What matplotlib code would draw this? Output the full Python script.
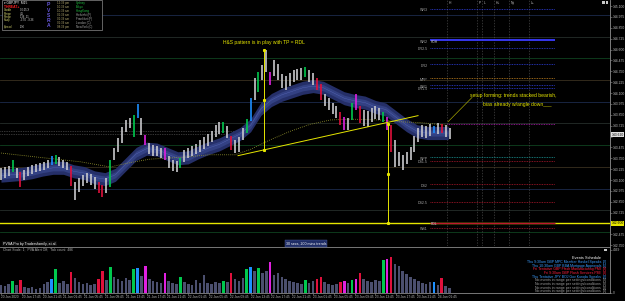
import numpy as np
import matplotlib.pyplot as plt
from matplotlib.patches import Rectangle

plt.rcParams['font.family'] = ['Liberation Sans', 'DejaVu Sans']

# GBPJPY M15 - price bars grouped by 3 (x = hours since 20 Jan 13:45)
bar_high = [143.24, 143.25, 143.26, 143.33, 143.24, 143.19, 143.22, 143.25, 143.27, 143.28,
            143.30, 143.31, 143.33, 143.38, 143.39, 143.36, 143.33, 143.31, 143.26, 143.08,
            143.12, 143.16, 143.18, 143.17, 143.13, 143.08, 143.04, 143.12, 143.33, 143.47,
            143.58, 143.71, 143.79, 143.81, 143.85, 143.97, 143.81, 143.62, 143.53, 143.50,
            143.49, 143.47, 143.47, 143.38, 143.33, 143.32, 143.35, 143.45, 143.47, 143.49,
            143.51, 143.56, 143.59, 143.63, 143.66, 143.73, 143.77, 143.77, 143.72, 143.61,
            143.56, 143.59, 143.70, 143.80, 144.04, 144.27, 144.34, 144.42, 144.60, 144.34,
            144.48, 144.43, 144.32, 144.30, 144.33, 144.37, 144.38, 144.39, 144.40, 144.37,
            144.33, 144.27, 144.20, 144.09, 144.04, 143.99, 143.95, 143.88, 143.82, 143.81,
            143.99, 144.09, 143.95, 143.91, 143.89, 143.93, 143.95, 143.93, 143.88, 143.82,
            143.73, 143.56, 143.42, 143.39, 143.42, 143.48, 143.61, 143.70, 143.73, 143.72,
            143.74, 143.72, 143.76, 143.74, 143.73, 143.70]
bar_low = [143.10, 143.12, 143.15, 143.19, 143.12, 143.02, 143.10, 143.15, 143.17, 143.19,
           143.20, 143.22, 143.24, 143.27, 143.28, 143.26, 143.24, 143.22, 143.03, 142.87,
           142.96, 143.03, 143.07, 143.04, 143.00, 142.95, 142.90, 142.95, 143.02, 143.33,
           143.42, 143.53, 143.65, 143.70, 143.59, 143.81, 143.62, 143.50, 143.40, 143.38,
           143.38, 143.35, 143.33, 143.24, 143.20, 143.19, 143.24, 143.31, 143.35, 143.38,
           143.40, 143.42, 143.46, 143.49, 143.54, 143.59, 143.63, 143.64, 143.58, 143.45,
           143.41, 143.42, 143.56, 143.64, 143.78, 144.02, 144.11, 144.25, 144.34, 144.19,
           144.30, 144.25, 144.16, 144.14, 144.18, 144.23, 144.25, 144.25, 144.28, 144.23,
           144.19, 144.14, 144.02, 143.95, 143.91, 143.86, 143.81, 143.73, 143.68, 143.68,
           143.79, 143.91, 143.76, 143.72, 143.71, 143.77, 143.80, 143.79, 143.77, 143.68,
           143.42, 143.25, 143.26, 143.22, 143.28, 143.33, 143.42, 143.54, 143.59, 143.58,
           143.61, 143.64, 143.63, 143.64, 143.59, 143.57]
# PVSRA colour per bar: w normal, g/r climax, b/m rising volume
bar_kind = ("wwwgwrwwww" "wwwbgwwwrw" "wwwwwrrwgw" "wwwwgbwmww" "wwmwwwgwww"
            "wwwwwwwgwr" "wwwgbwgwwm" "wwwwwwwwgw" "wrrwwwwrmw" "gmrwwwwwgm"
            "rwwwwwwwww" "wbwrww")
volume = [830, 730, 940, 1250, 830, 1350, 620, 520, 620, 420,
          520, 940, 1140, 1460, 2500, 1040, 1250, 940, 2180, 1560,
          1140, 940, 1040, 830, 940, 1460, 2290, 1350, 2700, 1660,
          1460, 1250, 1560, 1350, 2500, 2600, 1770, 2810, 1460, 1250,
          1140, 1040, 2080, 1250, 1040, 940, 1660, 1140, 940, 830,
          1350, 1040, 1870, 1040, 940, 1140, 1040, 1250, 1140, 2080,
          1460, 1250, 1560, 2500, 2700, 2290, 2600, 2080, 2290, 3220,
          1870, 2080, 1660, 1460, 1250, 1140, 1040, 940, 1350, 1040,
          1250, 1460, 1660, 1140, 940, 830, 940, 1140, 1250, 1040,
          1350, 1460, 2080, 1460, 1250, 1140, 1350, 1250, 3430, 3540,
          3740, 3020, 2810, 2290, 1980, 1660, 1460, 1250, 1040, 940,
          1140, 1140, 830, 1560, 730, 520]

# trend band centre, read every 2 hours
band_mid = [143.15, 143.16, 143.17, 143.19, 143.22, 143.24, 143.24, 143.20, 143.18, 143.13,
            143.11, 143.16, 143.28, 143.40, 143.46, 143.45, 143.40, 143.35, 143.36, 143.42,
            143.47, 143.51, 143.57, 143.63, 143.73, 143.92, 144.02, 144.08, 144.12, 144.16,
            144.18, 144.16, 144.10, 144.04, 144.01, 143.99, 143.94, 143.91, 143.82, 143.73,
            143.66, 143.64, 143.64, 143.64]
slow_ma_hours = [0, 7.5, 15.2, 21.0, 24.8, 28.7, 34.4, 40.2, 45.0, 47.9,
                 51.7, 55.6, 59.4, 63.3, 67.1, 72.9, 76.7, 80.6, 85.8]
slow_ma = [143.41, 143.36, 143.31, 143.25, 143.30, 143.34, 143.36, 143.39, 143.39, 143.45,
           143.56, 143.66, 143.74, 143.79, 143.80, 143.79, 143.77, 143.76, 143.73]

round_levels = [145.00, 144.75, 144.50, 144.25, 144.00, 143.75, 143.50, 143.25, 143.00, 142.75, 142.50]
pivot_levels = [145.07, 144.71, 144.62, 144.43, 144.27, 144.19, 144.16, 143.74,
                143.36, 143.32, 143.05, 142.85, 142.61, 142.55]
pivot_names = ["WR3", "WR2", "DR2.5", "DR2", "MPP", "WR1", "DR1.5", "",
               "WPP", "DS1.5", "DS2", "DS2.5", "", "WS1"]
session_hours = [85.8, 91.5, 92.5, 94.8, 97.7, 101.5]
session_names = ["H", "P", "L", "H+", "Ny", "L+"]

time_labels = ["20 Jan 2020", "20 Jan 17:45", "20 Jan 21:45",
               "21 Jan 01:45", "21 Jan 05:45", "21 Jan 09:45", "21 Jan 13:45", "21 Jan 17:45", "21 Jan 21:45",
               "22 Jan 01:45", "22 Jan 05:45", "22 Jan 09:45", "22 Jan 13:45", "22 Jan 17:45", "22 Jan 21:45",
               "23 Jan 01:45", "23 Jan 05:45", "23 Jan 09:45", "23 Jan 13:45", "23 Jan 17:45", "23 Jan 21:45",
               "24 Jan 01:45"]

head_price, neck_at_head = 144.60, 143.45
neck_break, target = 143.74, 142.60
current_price = 143.62

YEL = '#e6e600'
colour_map = {'w': '#c8c8cc', 'g': '#00c84e', 'r': '#e0103c', 'b': '#1e8fff', 'm': '#e020e0'}
vol_map = {'w': '#4b4f6e', 'g': '#00c84e', 'r': '#e0103c', 'b': '#1e8fff', 'm': '#e020e0'}

def fx(px):
    return px / 625

def fy(py):
    return 1 - py / 301

fig = plt.figure(figsize=(6.25, 3.01), dpi=100, facecolor='black')
ax = fig.add_axes([0, fy(246), fx(610), 246 / 301], facecolor='black')
vax = fig.add_axes([0, fy(293), fx(610), 46 / 301], facecolor='black')

x0, x1 = -0.19, 117.1
ax.set_xlim(x0, x1)
ax.set_ylim(142.341, 145.17)

# background levels
lev_cols = {0: '#1c2a4c', 25: '#3a3120', 50: '#0f4220', 75: '#262e2a'}
for lv in round_levels:
    frac = int(round((lv % 1) * 100))
    ax.axhline(lv, color=lev_cols[frac], lw=0.6, zorder=1)
ax.hlines([143.66, 143.63], x0, 46, colors='#6a6a6a', linestyles=(0, (1, 1.5)), lw=0.5, zorder=1)

# trend band
band_h = np.arange(len(band_mid)) * 2.0
bm = np.array(band_mid)
ax.fill_between(band_h, bm - 0.075, bm + 0.075, color='#252f68', lw=0, zorder=2)
ax.fill_between(band_h, bm - 0.035, bm + 0.035, color='#334183', lw=0, zorder=2)
ax.plot(band_h, bm, color='#5565b4', lw=0.3, zorder=2)
ax.plot(slow_ma_hours, slow_ma, color='#9a9a30', ls=(0, (1, 1.5)), lw=0.6, zorder=2)

# candles
bar_h = np.arange(len(bar_high)) * 0.75
ax.vlines(bar_h, bar_low, bar_high, colors=[colour_map[k] for k in bar_kind], lw=1.2, zorder=3)

# session lines
ax.vlines(session_hours, 142.341, 145.17, colors='#464646', linestyles=(0, (2, 2)), lw=0.5, zorder=1)
for h, n in zip(session_hours, session_names):
    ax.text(h + 0.3, 145.14, n, fontsize=2.4, color='#bbbbbb', va='center', zorder=5)

# pivot levels
for lv, nm in zip(pivot_levels, pivot_names):
    if lv > 144.15:
        col = '#2f3fe0'
    elif lv > 143.5:
        col = '#b01cb0'
    elif lv > 143.34:
        col = '#1c9a9a'
    else:
        col = '#b0182c'
    if nm == "MPP":
        col = '#c8841e'
    start = 85.8 if col == '#b01cb0' else 82.5
    if nm == "WR2":
        ax.hlines(lv, 82.5, 106.5, colors='#3b3bff', lw=1.3, zorder=4)
        ax.text(82.7, lv - 0.02, "RDH", fontsize=2.4, color='#d0d0d0', va='center', zorder=5)
    elif lv == 142.61:
        ax.hlines(lv, 82.5, 106.5, colors='#c01830', lw=0.9, zorder=4)
        ax.text(82.7, lv - 0.015, "RDL", fontsize=2.4, color='#d0d0d0', va='center', zorder=5)
    else:
        ax.hlines(lv, start, 106.5, colors=col, linestyles=(0, (1, 1)), lw=0.6, zorder=4)
    if nm:
        ax.text(82.1, lv - 0.018, nm, fontsize=2.6, color='#a8a8a8', va='center', ha='right', zorder=5)

# head & shoulders drawing
ax.axhline(target, color=YEL, lw=1.0, zorder=3)
ax.plot([45.58, 80.19], [143.38, 143.84], color=YEL, lw=0.7, zorder=4)
ax.plot([50.58, 50.58], [head_price, neck_at_head], color=YEL, lw=0.7, zorder=4)
ax.plot([50.58] * 3, [head_price, (head_price + neck_at_head) / 2, neck_at_head], 's', ms=1.2, color=YEL, zorder=5)
ax.plot([74.42, 74.42], [neck_break, target], color=YEL, lw=0.7, zorder=4)
ax.plot([74.42] * 3, [neck_break, (neck_break + target) / 2, target], 's', ms=1.2, color=YEL, zorder=5)
ax.text(42.7, 144.68, "H&S pattern is in play with TP = RDL", fontsize=3.6, color=YEL, va='center', zorder=6)
ax.plot([90.58, 85.96], [144.05, 143.77], color='#c8c800', lw=0.4, zorder=5)
ax.text(90.2, 144.07, "setup forming: trends stacked bearish,", fontsize=3.6, color=YEL, va='center', zorder=6)
ax.text(92.7, 143.97, "bias already w/angle down___", fontsize=3.6, color=YEL, va='center', zorder=6)

# price axis (labels under the two price boxes left blank)
ax.yaxis.tick_right()
ticks = np.round(np.arange(145.1, 142.3, -0.125), 3)
ax.set_yticks(ticks)
ax.set_yticklabels(["" if abs(t - current_price) < 0.05 or abs(t - target) < 0.05 else f"{t:.3f}"
                    for t in ticks])
ax.tick_params(axis='y', length=1.2, width=0.4, color='#909090', labelsize=2.4,
               labelcolor='#c0c0c0', pad=0.6)
ax.set_xticks([])
for s in ['top', 'left', 'bottom']:
    ax.spines[s].set_visible(False)
ax.spines['right'].set_color('#909090')
ax.spines['right'].set_linewidth(0.6)
ax.annotate(f"{current_price:.3f}", xy=(1.0, current_price), xycoords=('axes fraction', 'data'),
            xytext=(1.0, 0), textcoords='offset points', fontsize=2.4, color='black', va='center',
            ha='left', annotation_clip=False,
            bbox=dict(boxstyle='square,pad=0.2', fc='#e0e0e0', ec='none'), zorder=8)
ax.annotate(f"{target:.3f}", xy=(1.0, target), xycoords=('axes fraction', 'data'),
            xytext=(1.0, 0), textcoords='offset points', fontsize=2.4, color='black', va='center',
            ha='left', annotation_clip=False,
            bbox=dict(boxstyle='square,pad=0.2', fc=YEL, ec='none'), zorder=8)

# volume panel
vax.set_xlim(x0, x1)
vax.set_ylim(0, 4780)
vax.bar(bar_h, volume, width=0.5, color=[vol_map[k] for k in bar_kind], lw=0)
vax.yaxis.tick_right()
vax.set_yticks([0, 4469])
vax.set_yticklabels(["0", "4469"])
vax.set_xticks(np.arange(len(time_labels)) * 4.0)
vax.set_xticklabels(time_labels, ha='left')
vax.tick_params(axis='both', length=1.2, width=0.4, color='#909090', labelsize=2.3,
                labelcolor='#b8b8b8', pad=0.6)
vax.spines['left'].set_visible(False)
for s in ['top', 'right', 'bottom']:
    vax.spines[s].set_color('#8a8a8a')
    vax.spines[s].set_linewidth(0.6)

# info box (top left)
fig.add_artist(Rectangle((fx(2), fy(30)), fx(100), 30 / 301, transform=fig.transFigure,
                         fc='black', ec='#8a8a8a', lw=0.5, zorder=10))
fig.text(fx(4), fy(3), "\u25be GBPJPY  M15", fontsize=2.3, color='white', va='center', zorder=11)
fig.text(fx(4), fy(6.6), "THREAT+", fontsize=2.4, color='#ff2020', weight='bold', va='center', zorder=11)
info_keys = ["Candle", "Range", "Range", "Swap", "Spread"]
info_vals = ["00:05 X", "4.1", "136  21", "-3.50  -9.36", "1.90"]
info_y = [10.4, 13.6, 16.8, 20.0, 27.0]
for k, v, yy in zip(info_keys, info_vals, info_y):
    fig.text(fx(4), fy(yy), k, fontsize=1.9, color='#d8d870', va='center', zorder=11)
    fig.text(fx(20), fy(yy), v, fontsize=1.9, color='#d8d8d8', va='center', zorder=11)
for i, ch in enumerate("PVSRA"):
    fig.text(fx(48.5), fy(5 + 5.1 * i), ch, fontsize=3.6, color='#6a5ae0', weight='bold',
             ha='center', va='center', zorder=11)
market_times = ["12:39 pm", "10:39 am", "10:39 am", "01:39 am", "01:39 am", "01:39 am", "08:39 pm"]
markets = ["Sydney", "Tokyo", "HongKong", "Helsinki (F)", "Frankfurt (F)", "London (C)", "NewYork (C)"]
for i, (t, m) in enumerate(zip(market_times, markets)):
    yy = 3.3 + 3.9 * i
    fig.text(fx(57), fy(yy), t, fontsize=2.1, color='#b4a870', va='center', zorder=11)
    fig.text(fx(76), fy(yy), m, fontsize=2.1, color='#20c040' if i < 3 else '#a8a8a8', va='center', zorder=11)
for px in (602, 605.5):
    fig.add_artist(Rectangle((fx(px), fy(3.5)), fx(2.5), 2.5 / 301, transform=fig.transFigure,
                             fc='#c8c8c8', ec='none', zorder=10))

# indicator captions
fig.text(fx(3), fy(243.5), "PVSA Pro by Tradersfamily, et al.", fontsize=2.6, color='white', va='center',
         bbox=dict(boxstyle='square,pad=0.2', fc='#0c0c0c', ec='none'), zorder=11)
fig.text(fx(3), fy(250), "Chart Scale: 1;  PVA Alert Off;  Tick count: 486", fontsize=2.4,
         color='#b0b0b0', va='center', zorder=11)
fig.text(fx(306), fy(243.5), "30 secs, 200 mins trends", fontsize=2.6, color='white', ha='center',
         va='center', bbox=dict(boxstyle='square,pad=0.3', fc='#1f2d66', ec='#5060a0', lw=0.3), zorder=11)
fig.add_artist(Rectangle((fx(604), fy(251)), fx(2.5), 2.5 / 301, transform=fig.transFigure,
                         fc='#c8c8c8', ec='none', zorder=10))

# events schedule
events = ["Thu 9:30am GBP MPC Member Haskel Speaks", "Thu 10:30am GBP BBA Mortgage Approvals",
          "Fri Tentative GBP Flash Manufacturing PMI", "Fri 9:30am GBP Flash Services PMI",
          "Thu Tentative JPY BOJ Gov Kuroda Speaks",
          "No events in range per settings/conditions", "No events in range per settings/conditions",
          "No events in range per settings/conditions", "No events in range per settings/conditions"]
event_counts = [2, 1, 3, 3, 2, 0, 0, 0, 0]
event_cols = ['#3a9cff', '#3a9cff', '#ff2040', '#ff2040', '#3a9cff',
              '#a0a0a0', '#a0a0a0', '#a0a0a0', '#a0a0a0']
fig.text(fx(601), fy(258), "Events Schedule", fontsize=2.8, color='white', ha='right', va='center', zorder=11)
for i, (e, c, col) in enumerate(zip(events, event_counts, event_cols)):
    yy = 262 + 3.65 * i
    fig.text(fx(601), fy(yy), e, fontsize=2.5, color=col, ha='right', va='center', zorder=11)
    fig.text(fx(603), fy(yy), f"[{c}]", fontsize=2.5, color=col, ha='left', va='center', zorder=11)

fig.savefig("out.png", dpi=100, facecolor='black')
